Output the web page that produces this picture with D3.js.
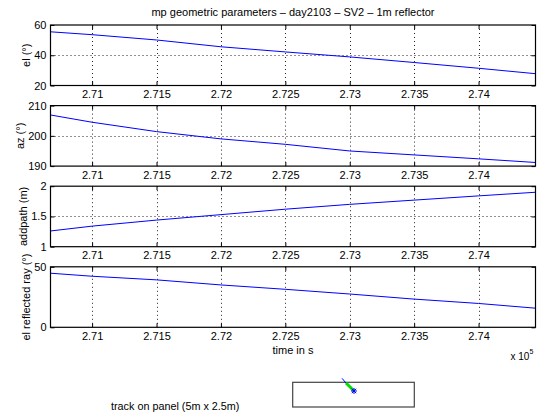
<!DOCTYPE html>
<html><head><meta charset="utf-8">
<script src="https://cdn.jsdelivr.net/npm/d3@7"></script>
<style>
body{margin:0;background:#fff;}
svg{display:block;font-family:"Liberation Sans",Arial,Helvetica,sans-serif;}
</style></head><body>
<script>
// ---- data ----
const time = [270677, 271000, 271500, 272000, 272500, 273000, 273500, 274000, 274442];
const elev = [55.5, 53.6, 50.1, 45.6, 42.2, 38.9, 35.2, 31.4, 27.8];
const azim = [206.9, 204.5, 201.4, 199.0, 197.2, 195.0, 193.7, 192.4, 191.2];
const addpath = [1.26, 1.34, 1.44, 1.53, 1.62, 1.70, 1.77, 1.84, 1.90];
const elRefl = [44.7, 42.2, 39.2, 35.0, 31.4, 27.5, 23.3, 19.7, 15.8];
const xTicks = [271000, 271500, 272000, 272500, 273000, 273500, 274000];
const xDomain = [270677, 274442];
const trackX = [2.03, 2.19, 2.36, 2.52];
const trackY = [2.90, 2.43, 2.02, 1.62];
const titleText = "mp geometric parameters \u2013 day2103 \u2013 SV2 \u2013 1m reflector";

const panels = [
  {values: elev, domain: [20, 60], ticks: [20, 40, 60], grid: [40], label: "el (\u00b0)", lx: 30},
  {values: azim, domain: [190, 210], ticks: [190, 200, 210], grid: [200], label: "az (\u00b0)", lx: 23.5},
  {values: addpath, domain: [1, 2], ticks: [1, 1.5, 2], grid: [1.5], label: "addpath (m)", lx: 26.5},
  {values: elRefl, domain: [0, 50], ticks: [0, 50], grid: [], label: "el reflected ray (\u00b0)", lx: 30}
];

const W = 553, H = 417, FS = 11;
const svg = d3.select("body").append("svg").attr("width", W).attr("height", H);
const left = 50.5, right = 535.5, ph = 60.5;
const tops = [25, 105.6, 186.2, 266.8];
const x = d3.scaleLinear().domain(xDomain).range([left, right]);
const fmt = v => d3.format("")(+(v / 1e5).toFixed(4));

svg.append("text").attr("x", (left + right) / 2).attr("y", 16).attr("text-anchor", "middle")
  .attr("font-size", FS).text(titleText);

panels.forEach((p, i) => {
  const top = tops[i], bot = top + ph;
  const y = d3.scaleLinear().domain(p.domain).range([bot, top]);
  const g = svg.append("g");
  // grid
  g.selectAll(".gx").data(xTicks).enter().append("line")
    .attr("x1", d => Math.round(x(d)) + 0.5).attr("x2", d => Math.round(x(d)) + 0.5)
    .attr("y1", top).attr("y2", bot)
    .attr("stroke", "#222").attr("stroke-width", 1).attr("stroke-dasharray", "1,3");
  g.selectAll(".gy").data(p.grid).enter().append("line")
    .attr("x1", left).attr("x2", right)
    .attr("y1", d => Math.round(y(d)) + 0.5).attr("y2", d => Math.round(y(d)) + 0.5)
    .attr("stroke", "#222").attr("stroke-width", 1).attr("stroke-dasharray", "1,3");
  // line
  const line = d3.line().x((d, j) => x(time[j])).y(d => y(d));
  g.append("path").datum(p.values).attr("d", line).attr("fill", "none")
    .attr("stroke", "#0000ff").attr("stroke-width", 1);
  // axes
  const axB = d3.axisBottom(x).tickValues(xTicks).tickFormat(fmt).tickSizeInner(-4).tickSizeOuter(0).tickPadding(5);
  const axT = d3.axisTop(x).tickValues(xTicks).tickFormat("").tickSizeInner(-4).tickSizeOuter(0);
  const axL = d3.axisLeft(y).tickValues(p.ticks).tickFormat(d3.format("")).tickSizeInner(-4).tickSizeOuter(0).tickPadding(4);
  const axR = d3.axisRight(y).tickValues(p.ticks).tickFormat("").tickSizeInner(-4).tickSizeOuter(0);
  [[axB, `translate(0,${bot})`], [axT, `translate(0,${top})`], [axL, `translate(${left},0)`], [axR, `translate(${right},0)`]]
    .forEach(([a, t]) => {
      const ag = g.append("g").attr("transform", t).call(a);
      ag.select(".domain").remove();
      ag.selectAll("line").attr("stroke", "#000");
      ag.selectAll("text").attr("font-size", FS).attr("font-family", "Liberation Sans, Arial, sans-serif").attr("fill", "#000");
    });
  g.append("rect").attr("x", left).attr("y", top).attr("width", right - left).attr("height", ph)
    .attr("fill", "none").attr("stroke", "#000").attr("stroke-width", 1.2);
  svg.append("text").attr("transform", `translate(${p.lx},${top + ph / 2}) rotate(-90)`)
    .attr("text-anchor", "middle").attr("font-size", FS).text(p.label);
});

svg.append("text").attr("x", (left + right) / 2).attr("y", 353.5).attr("text-anchor", "middle")
  .attr("font-size", FS).text("time in s");
const xe = svg.append("text").attr("x", 510.5).attr("y", 360).attr("font-size", 10);
xe.append("tspan").text("x 10");
xe.append("tspan").attr("dy", -6).attr("font-size", 7).text("5");

// track panel
const tx = d3.scaleLinear().domain([0, 5]).range([292.7, 414.3]);
const ty = d3.scaleLinear().domain([0, 2.5]).range([407, 382.3]);
svg.append("rect").attr("x", tx(0)).attr("y", ty(2.5)).attr("width", tx(5) - tx(0)).attr("height", ty(0) - ty(2.5))
  .attr("fill", "none").attr("stroke", "#444").attr("stroke-width", 1.2);
const tl = d3.line().x(d => tx(d[0])).y(d => ty(d[1]));
const pts = trackX.map((v, i) => [v, trackY[i]]);
svg.append("path").datum(pts).attr("d", tl).attr("fill", "none").attr("stroke", "#0000ff").attr("stroke-width", 1);
svg.append("path").datum(pts.slice(1)).attr("d", tl).attr("fill", "none").attr("stroke", "#00dd00").attr("stroke-width", 3);
const last = pts[pts.length - 1];
const star = svg.append("g").attr("transform", `translate(${tx(last[0])},${ty(last[1])})`).attr("stroke", "#0000ff").attr("stroke-width", 1);
[[-3,0,3,0],[0,-3,0,3],[-2.2,-2.2,2.2,2.2],[-2.2,2.2,2.2,-2.2]].forEach(s =>
  star.append("line").attr("x1", s[0]).attr("y1", s[1]).attr("x2", s[2]).attr("y2", s[3]));
svg.append("text").attr("x", 111).attr("y", 410).attr("font-size", 10.8).text("track on panel (5m x 2.5m)");
</script>
</body></html>
